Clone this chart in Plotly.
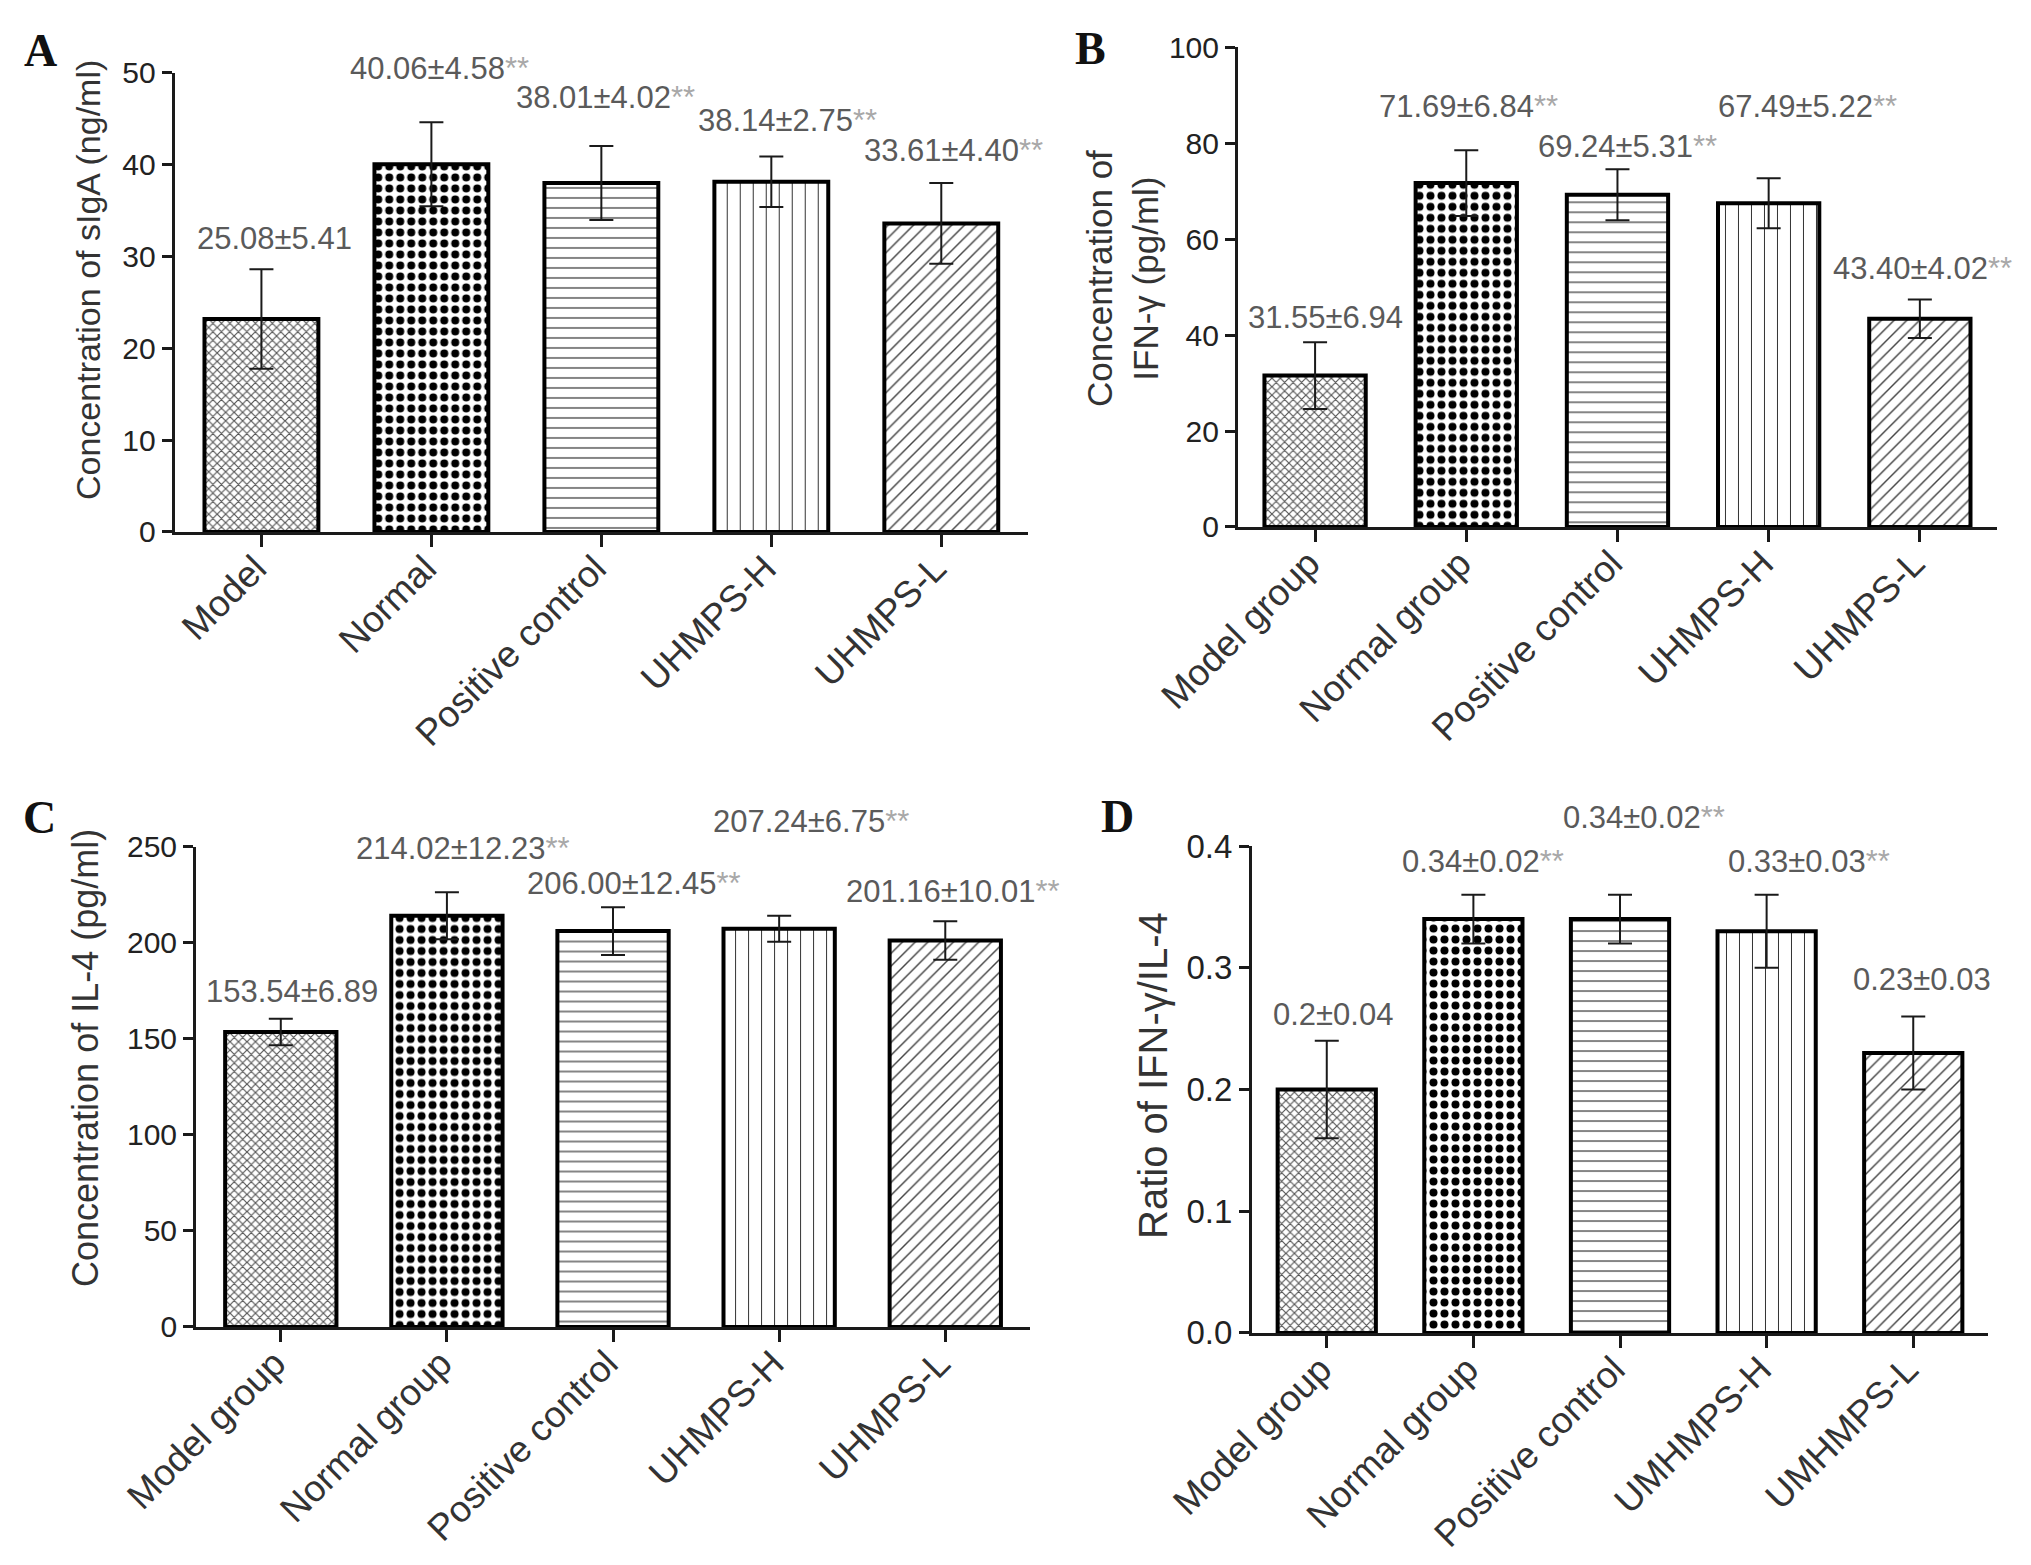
import plotly.graph_objects as go

# ---- data ----
cats_a = ["Model", "Normal", "Positive control", "UHMPS-H", "UHMPS-L"]
cats_bc = ["Model group", "Normal group", "Positive control", "UHMPS-H", "UHMPS-L"]
cats_d = ["Model group", "Normal group", "Positive control", "UMHMPS-H", "UMHMPS-L"]

siga_bar = [23.2, 40.06, 38.01, 38.14, 33.61]
siga_sd = [5.41, 4.58, 4.02, 2.75, 4.40]
siga_txt = ["25.08±5.41", "40.06±4.58", "38.01±4.02", "38.14±2.75", "33.61±4.40"]

ifn_bar = [31.55, 71.69, 69.24, 67.49, 43.40]
ifn_sd = [6.94, 6.84, 5.31, 5.22, 4.02]
ifn_txt = ["31.55±6.94", "71.69±6.84", "69.24±5.31", "67.49±5.22", "43.40±4.02"]

il4_bar = [153.54, 214.02, 206.00, 207.24, 201.16]
il4_sd = [6.89, 12.23, 12.45, 6.75, 10.01]
il4_txt = ["153.54±6.89", "214.02±12.23", "206.00±12.45", "207.24±6.75", "201.16±10.01"]

ratio_bar = [0.20, 0.34, 0.34, 0.33, 0.23]
ratio_sd = [0.04, 0.02, 0.02, 0.03, 0.03]
ratio_txt = ["0.2±0.04", "0.34±0.02", "0.34±0.02", "0.33±0.03", "0.23±0.03"]

signif_a = [False, True, True, True, True]
signif_b = [False, True, True, True, True]
signif_c = [False, True, True, True, True]
signif_d = [False, True, True, True, False]

# ---- styling ----
FONT = "Liberation Sans, Arial, sans-serif"
pat_shape = ["x", ".", "-", "|", "/"]
pat_size = [6, 11, 10, 13, 9]
pat_solid = [0.35, 0.42, 0.12, 0.08, 0.16]
pat_fg = ["#555555", "#000000", "#333333", "#333333", "#444444"]

xs = [0, 1, 2, 3, 4]

fig = go.Figure()

panels = [
    ("x", "y", siga_bar, siga_sd),
    ("x2", "y2", ifn_bar, ifn_sd),
    ("x3", "y3", il4_bar, il4_sd),
    ("x4", "y4", ratio_bar, ratio_sd),
]

for xa, ya, vals, sd in panels:
    fig.add_trace(go.Bar(
        x=xs, y=vals, xaxis=xa, yaxis=ya, width=0.67,
        marker=dict(
            color="white",
            line=dict(color="black", width=4),
            pattern=dict(shape=pat_shape, size=pat_size, solidity=pat_solid,
                         fgcolor=pat_fg, bgcolor="white", fillmode="replace"),
        ),
        error_y=dict(type="data", array=sd, symmetric=True,
                     color="#1a1a1a", thickness=2, width=12),
        showlegend=False, hoverinfo="skip",
    ))

# label positions (data y), vertical nudge (px) and horizontal nudge (px)
lab_a = ([31.0, 49.5, 46.3, 43.8, 40.6], [0, 0, 0, 0, 0], [13, -4, -8, 4, 0])
lab_b = ([41.7, 85.8, 77.5, 85.8, 52.1], [0, 0, 0, 0, 0], [10, -10, -2, 27, -9])
lab_c = ([169.9, 244.3, 226.0, 245.0, 222.0], [0, 0, 0, 26, 0], [11, 4, 9, 20, -4])
lab_d = ([0.254, 0.380, 0.380, 0.380, 0.283], [0, 0, 44, 0, 0], [6, -2, 12, 30, 9])
LIFT = 9

annos = []
for (xa, ya), txts, sig, (ly, dy, dx) in [
    (("x", "y"), siga_txt, signif_a, lab_a),
    (("x2", "y2"), ifn_txt, signif_b, lab_b),
    (("x3", "y3"), il4_txt, signif_c, lab_c),
    (("x4", "y4"), ratio_txt, signif_d, lab_d),
]:
    for i in range(5):
        t = txts[i]
        shift = dx[i]
        if sig[i]:
            t = t + "<span style='color:#a8a8a8'>**</span>"
            shift += 12
        annos.append(dict(
            x=xs[i], y=ly[i], xref=xa, yref=ya, text=t, showarrow=False,
            xanchor="center", yanchor="middle", xshift=shift, yshift=dy[i] + LIFT,
            font=dict(family=FONT, size=31, color="#5a5a5a"),
        ))

# panel letters
for letter, px, py in [("A", 0.016, 0.973), ("B", 0.533, 0.974),
                       ("C", 0.0155, 0.483), ("D", 0.5465, 0.4837)]:
    annos.append(dict(
        x=px, y=py, xref="paper", yref="paper", text="<b>%s</b>" % letter,
        showarrow=False, xanchor="center", yanchor="middle",
        font=dict(family="Liberation Serif, Times New Roman, serif", size=46, color="#111111"),
    ))

# y axis titles (rotated text)
for title, px, py, size in [
    ("Concentration of sIgA (ng/ml)", 80 / 2031, 1 - 272 / 1565, 34),
    ("Concentration of<br>IFN-γ (pg/ml)", 1115 / 2031, 1 - 271 / 1565, 35),
    ("Concentration of IL-4 (pg/ml)", 77 / 2031, 1 - 1050 / 1565, 36),
    ("Ratio of IFN-γ/IL-4", 1145 / 2031, 1 - 1068 / 1565, 40),
]:
    annos.append(dict(
        x=px, y=py, xref="paper", yref="paper", text=title, textangle=-90,
        showarrow=False, xanchor="center", yanchor="middle",
        font=dict(family=FONT, size=size, color="#333333"),
    ))


def xaxis_style(domain, anchor, cats):
    return dict(
        domain=domain, anchor=anchor, range=[-0.51, 4.51], automargin=False,
        tickvals=xs, ticktext=cats, tickangle=-45,
        ticklabelstandoff=-15, ticklabelshift=-6,
        showline=True, linecolor="#1a1a1a", linewidth=3,
        ticks="outside", ticklen=12, tickwidth=3, tickcolor="#1a1a1a",
        showgrid=False, zeroline=False,
        tickfont=dict(family=FONT, size=37, color="#333333"),
    )


def yaxis_style(domain, anchor, rng, dtick, fsize, fmt=None):
    d = dict(
        domain=domain, anchor=anchor, range=rng, dtick=dtick, tick0=0,
        automargin=False,
        showline=True, linecolor="#1a1a1a", linewidth=3,
        ticks="outside", ticklen=10, tickwidth=3, tickcolor="#1a1a1a",
        showgrid=False, zeroline=False,
        tickfont=dict(family=FONT, size=fsize, color="#222222"),
    )
    if fmt:
        d["tickformat"] = fmt
    return d


fig.update_layout(
    width=2031, height=1565,
    margin=dict(l=0, r=0, t=0, b=0),
    paper_bgcolor="white", plot_bgcolor="white",
    xaxis=xaxis_style([0.0821, 0.5022], "y", cats_a),
    yaxis=yaxis_style([0.6652, 0.9585], "x", [0, 50], 10, 30),
    xaxis2=xaxis_style([0.6056, 0.9793], "y2", cats_bc),
    yaxis2=yaxis_style([0.6684, 0.9749], "x2", [0, 100], 20, 30),
    xaxis3=xaxis_style([0.0926, 0.5032], "y3", cats_bc),
    yaxis3=yaxis_style([0.1572, 0.4642], "x3", [0, 250], 50, 30),
    xaxis4=xaxis_style([0.6125, 0.9749], "y4", cats_d),
    yaxis4=yaxis_style([0.1534, 0.4645], "x4", [0, 0.4], 0.1, 33, ".1f"),
    annotations=annos,
)

fig.write_html("out.html")
